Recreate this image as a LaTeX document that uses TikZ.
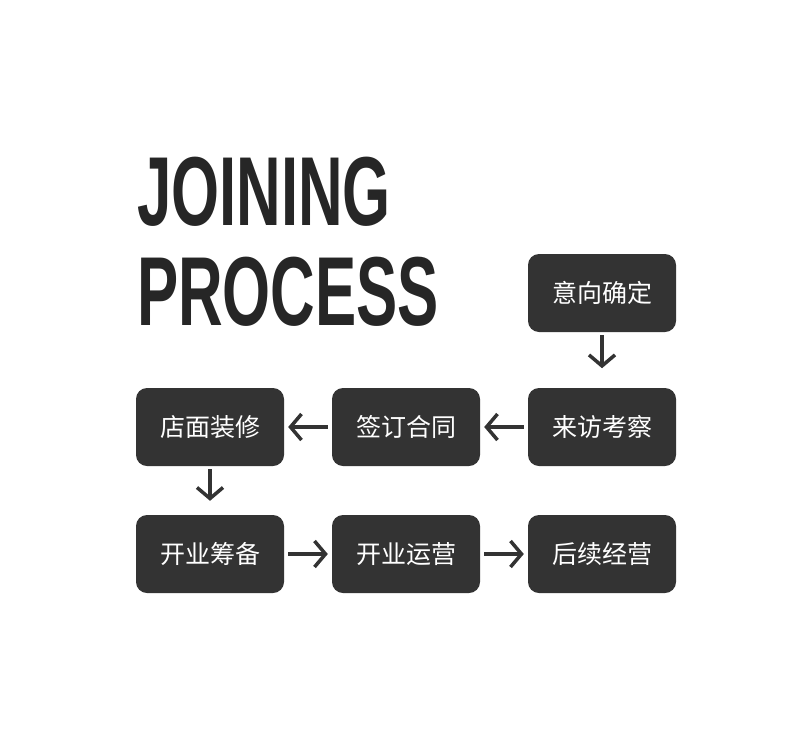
\documentclass[tikz,border=0pt]{standalone}
\usepackage{fontspec}
\setmainfont{Liberation Sans}
\newfontfamily\cjk{Noto Sans CJK SC}
\usetikzlibrary{positioning,arrows.meta}

\begin{document}
\begin{tikzpicture}[x=1pt, y=-1pt, on grid, node distance = 134pt and 196pt,
step box/.style ={rectangle, rounded corners=11pt, fill=black!80, text=white, minimum width=148pt, minimum height=78pt, font=\cjk\fontsize{25}{28}\selectfont},
flow/.style={line width=3.5pt, draw=black!80, -{Straight Barb[length=11pt, width=26pt, line width=3.5pt]}},
title/.style={anchor=base west, inner sep=0pt, xscale=0.63, font=\fontsize{98}{100}\selectfont\bfseries, text=black!85}]
\useasboundingbox (0,0) rectangle (800,739);
\node[title] (T1) at (137,225) {JOINING};
\node[title] (T2) at (137,325) {PROCESS};
\node[step box] (A) at (602,293) {意向确定};
\node[step box] (B) [below = of A] {来访考察};
\node[step box] (C) [left = of B] {签订合同};
\node[step box] (D) [left = of C] {店面装修};
\node[step box] (E) [below = 127pt of D] {开业筹备};
\node[step box] (F) [right = of E] {开业运营};
\node[step box] (G) [right = of F] {后续经营};
\draw[flow] ([yshift=-3pt]A.south) -- ([yshift=-36pt]A.south);
\draw[flow] ([xshift=-4pt]B.west) -- ([xshift=4pt]C.east);
\draw[flow] ([xshift=-4pt]C.west) -- ([xshift=4pt]D.east);
\draw[flow] ([yshift=-3pt]D.south) -- ([yshift=14pt]E.north);
\draw[flow] ([xshift=4pt]E.east) -- ([xshift=-4pt]F.west);
\draw[flow] ([xshift=4pt]F.east) -- ([xshift=-4pt]G.west);
\end{tikzpicture}
\end{document}
